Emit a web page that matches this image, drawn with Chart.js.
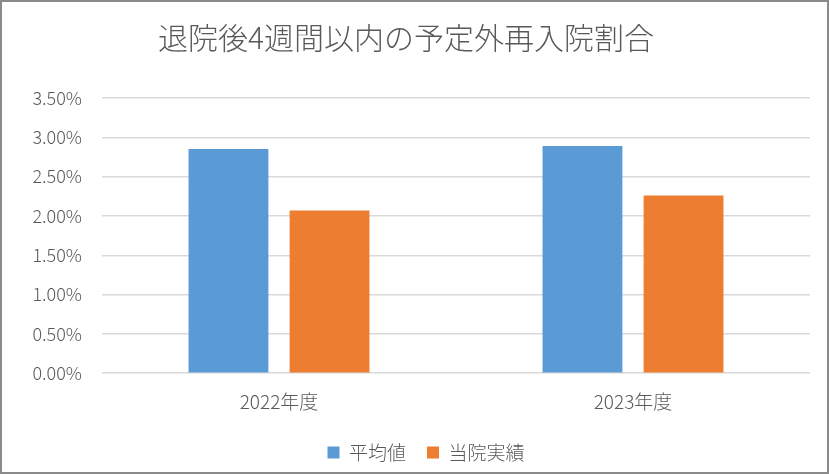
<!DOCTYPE html>
<html>
<head>
<meta charset="utf-8">
<script src="https://cdn.jsdelivr.net/npm/chart.js@4"></script>
<style>
    body { margin: 0; background: #fff; }
    .chart-box { width: 829px; height: 474px; box-sizing: border-box; border: 2px solid #8a8a8a; background: #fff; }
</style>
</head>
<body>
<div class="chart-box"><canvas id="rateChart"></canvas></div>
<script>
const categories = ['2022年度', '2023年度'];
const averageRates = [2.85, 2.89];
const hospitalRates = [2.07, 2.26];
const yTicks = [0, 0.5, 1, 1.5, 2, 2.5, 3, 3.5];

const ctx = document.getElementById('rateChart').getContext('2d');

Chart.defaults.font.family = '"Noto Sans CJK JP", "Noto Sans", sans-serif';
Chart.defaults.font.weight = '300';
Chart.defaults.color = '#595959';

// legend sits a little right of centre in the original
const shiftLegend = {
    id: 'shiftLegend',
    afterLayout: function (chart) {
        chart.legend.left += 20;
        chart.legend.right += 20;
    }
};

const myChart = new Chart(ctx, {
    type: 'bar',
    data: {
        labels: categories,
        datasets: [{
            label: '平均値',
            data: averageRates,
            backgroundColor: '#5b9bd5'
        }, {
            label: '当院実績',
            data: hospitalRates,
            backgroundColor: '#ed7d31'
        }]
    },
    options: {
        responsive: true,
        maintainAspectRatio: false,
        animation: false,
        categoryPercentage: 0.571,
        barPercentage: 0.79,
        layout: {
            padding: { left: 0, right: 17, top: 0, bottom: 0 }
        },
        scales: {
            x: {
                grid: { display: false },
                border: { display: false },
                ticks: { padding: 9, font: { size: 19 } }
            },
            y: {
                min: 0,
                max: yTicks[yTicks.length - 1],
                afterBuildTicks: function (axis) {
                    axis.ticks = yTicks.map(v => ({ value: v }));
                },
                afterFit: function (axis) {
                    axis.width = 100;
                },
                grid: { color: '#d9d9d9', lineWidth: 1.5, drawTicks: false },
                border: { display: false },
                ticks: {
                    padding: 20,
                    font: { size: 18 },
                    callback: function (value) { return value.toFixed(2) + '%'; }
                }
            }
        },
        plugins: {
            title: {
                display: true,
                text: '退院後4週間以内の予定外再入院割合',
                font: { size: 30, weight: '300' },
                padding: { top: 18, bottom: 42 }
            },
            legend: {
                position: 'bottom',
                labels: {
                    boxWidth: 12,
                    boxHeight: 12,
                    padding: 21,
                    font: { size: 19 }
                }
            },
            tooltip: { enabled: false }
        }
    },
    plugins: [shiftLegend]
});
</script>
</body>
</html>
